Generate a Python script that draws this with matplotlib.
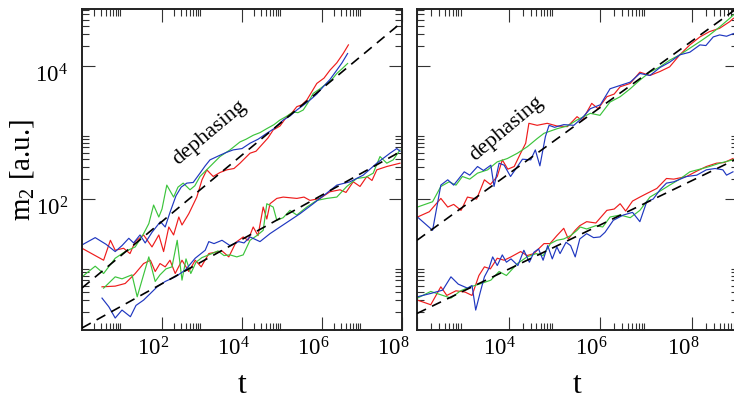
import numpy as np
import matplotlib
matplotlib.use("Agg")
import matplotlib.pyplot as plt
from matplotlib.ticker import FixedLocator, FixedFormatter, NullFormatter
import matplotlib.transforms as mtransforms

plt.rcParams['font.family'] = ['Liberation Serif', 'DejaVu Serif']
plt.rcParams['mathtext.fontset'] = 'custom'
plt.rcParams['mathtext.rm'] = 'Liberation Serif'
plt.rcParams['mathtext.it'] = 'Liberation Serif:italic'

# ---------------- data (log10 t, log10 m2) ----------------
# left panel, upper group (dephasing)
lu_blue_lt = [0, 0.33, 0.6, 0.83, 1.0, 1.17, 1.29, 1.45, 1.58, 1.75, 1.96, 2.08, 2.2, 2.35, 2.48, 2.62, 2.78, 2.95, 3.08, 3.2, 3.45, 3.6, 3.78, 4.0, 4.2, 4.4, 4.62, 4.8, 5.03, 5.2, 5.37, 5.55, 5.7, 5.87, 6.03, 6.2, 6.37, 6.5, 6.64]
lu_blue_lm = [1.31, 1.42, 1.32, 1.21, 1.30, 1.41, 1.34, 1.46, 1.34, 1.50, 1.66, 1.58, 1.80, 2.05, 2.18, 2.24, 2.25, 2.39, 2.50, 2.59, 2.66, 2.70, 2.74, 2.76, 2.84, 2.90, 2.99, 3.06, 3.19, 3.25, 3.34, 3.42, 3.49, 3.58, 3.69, 3.80, 3.94, 4.05, 4.19]
lu_red_lt = [0, 0.54, 0.71, 0.83, 1.04, 1.2, 1.33, 1.54, 1.75, 1.92, 2.04, 2.17, 2.29, 2.42, 2.5, 2.67, 2.87, 3.0, 3.12, 3.28, 3.45, 3.62, 3.8, 3.95, 4.2, 4.35, 4.53, 4.65, 4.78, 4.95, 5.12, 5.25, 5.37, 5.5, 5.62, 5.75, 5.87, 6.05, 6.2, 6.37, 6.53, 6.66]
lu_red_lm = [1.26, 1.08, 1.38, 1.23, 1.26, 1.18, 1.36, 1.46, 1.28, 1.46, 1.21, 1.58, 1.46, 1.73, 1.61, 1.78, 2.03, 2.29, 2.44, 2.34, 2.40, 2.44, 2.46, 2.54, 2.69, 2.72, 2.84, 2.92, 3.04, 3.10, 3.24, 3.30, 3.39, 3.42, 3.49, 3.62, 3.74, 3.82, 3.94, 4.05, 4.19, 4.32]
lu_green_lt = [0, 0.33, 0.54, 0.83, 1.08, 1.33, 1.54, 1.67, 1.79, 1.92, 2.0, 2.12, 2.29, 2.4, 2.53, 2.7, 2.82, 2.95, 3.2, 3.45, 3.7, 3.95, 4.1, 4.28, 4.45, 4.62, 4.8, 4.95, 5.1, 5.28, 5.4, 5.53, 5.65, 5.78, 5.95, 6.12, 6.25, 6.37, 6.5, 6.64]
lu_green_lm = [0.83, 0.99, 0.88, 1.11, 1.21, 1.28, 1.48, 1.63, 1.91, 1.73, 1.85, 2.21, 2.03, 2.18, 2.24, 2.14, 2.20, 2.34, 2.49, 2.64, 2.74, 2.86, 2.90, 2.96, 3.00, 3.06, 3.12, 3.19, 3.24, 3.31, 3.30, 3.34, 3.45, 3.59, 3.66, 3.74, 3.80, 3.89, 3.96, 4.04]

# left panel, lower group
ll_blue_lt = [0.5, 0.67, 0.83, 1.0, 1.21, 1.35, 1.54, 1.71, 1.88, 2.08, 2.33, 2.58, 2.83, 3.08, 3.17, 3.3, 3.5, 3.7, 3.92, 4.05, 4.2, 4.45, 4.7, 4.95, 5.2, 5.45, 5.78, 6.12, 6.37, 6.7, 7.03, 7.37, 7.7, 7.87, 7.95]
ll_blue_lm = [0.51, 0.38, 0.21, 0.33, 0.23, 0.40, 0.48, 0.58, 0.68, 0.76, 0.83, 0.93, 1.11, 1.23, 1.36, 1.33, 1.38, 1.30, 1.36, 1.34, 1.43, 1.36, 1.48, 1.58, 1.68, 1.78, 1.93, 2.09, 2.21, 2.26, 2.36, 2.54, 2.69, 2.76, 2.72]
ll_red_lt = [0.5, 0.83, 1.08, 1.33, 1.54, 1.71, 1.83, 1.95, 2.08, 2.2, 2.33, 2.5, 2.67, 2.83, 2.98, 3.17, 3.33, 3.5, 3.67, 3.85, 4.03, 4.15, 4.28, 4.4, 4.53, 4.62, 4.7, 4.87, 5.03, 5.2, 5.37, 5.55, 5.7, 5.95, 6.2, 6.45, 6.6, 6.78, 6.95, 7.12, 7.25, 7.37, 7.62, 7.95]
ll_red_lm = [0.68, 0.69, 0.73, 0.88, 1.03, 1.08, 0.91, 1.03, 0.98, 1.08, 0.88, 1.08, 0.91, 1.08, 0.98, 1.18, 1.20, 1.22, 1.13, 1.35, 1.43, 1.38, 1.58, 1.45, 1.88, 1.70, 1.93, 2.01, 2.03, 2.02, 2.01, 2.03, 1.98, 2.01, 2.11, 2.14, 2.10, 2.26, 2.19, 2.34, 2.28, 2.44, 2.49, 2.54]
ll_green_lt = [0.54, 0.83, 1.0, 1.25, 1.38, 1.5, 1.67, 1.83, 1.95, 2.1, 2.25, 2.38, 2.5, 2.6, 2.72, 2.85, 3.0, 3.25, 3.4, 3.55, 3.7, 3.87, 4.03, 4.2, 4.37, 4.53, 4.62, 4.78, 4.87, 5.03, 5.2, 5.37, 5.62, 5.87, 6.12, 6.37, 6.62, 6.87, 7.1, 7.28, 7.45, 7.62, 7.78, 7.95]
ll_green_lm = [0.66, 0.83, 0.80, 0.86, 0.53, 0.78, 1.13, 0.76, 0.86, 0.95, 0.98, 1.38, 0.78, 1.10, 0.88, 1.05, 1.12, 1.18, 1.22, 1.15, 1.16, 1.13, 1.16, 1.38, 1.45, 1.53, 1.93, 1.88, 1.68, 1.72, 1.83, 1.76, 1.88, 1.98, 2.01, 2.03, 2.19, 2.31, 2.33, 2.39, 2.64, 2.54, 2.59, 2.74]

# right panel, upper group (dephasing)
ru_blue_lt = [2.01, 2.34, 2.52, 2.67, 2.8, 3.03, 3.15, 3.32, 3.45, 3.61, 3.68, 3.79, 3.9, 4.04, 4.15, 4.3, 4.48, 4.58, 4.68, 4.8, 4.88, 5.0, 5.2, 5.42, 5.6, 5.78, 6.0, 6.21, 6.43, 6.65, 6.86, 7.08, 7.3, 7.51, 7.73, 7.95, 8.17, 8.3, 8.46, 8.6, 8.75, 8.9]
ru_blue_lm = [1.73, 1.53, 2.21, 2.29, 2.21, 2.41, 2.36, 2.49, 2.43, 2.51, 2.19, 2.54, 2.51, 2.34, 2.45, 2.60, 2.59, 2.74, 2.50, 2.94, 3.11, 3.08, 3.12, 3.11, 3.22, 3.36, 3.42, 3.66, 3.71, 3.76, 3.89, 3.86, 3.98, 4.06, 4.17, 4.21, 4.32, 4.31, 4.44, 4.47, 4.45, 4.49]
ru_red_lt = [2.01, 2.27, 2.52, 2.67, 2.8, 2.96, 3.1, 3.3, 3.47, 3.6, 3.75, 3.86, 3.98, 4.12, 4.26, 4.37, 4.44, 4.62, 4.84, 5.05, 5.28, 5.49, 5.6, 5.81, 5.95, 6.14, 6.3, 6.43, 6.65, 6.86, 7.08, 7.3, 7.51, 7.73, 7.95, 8.17, 8.38, 8.6, 8.82, 8.9]
ru_red_lm = [1.73, 1.81, 2.01, 1.88, 1.92, 1.83, 2.03, 2.00, 2.29, 2.22, 2.34, 2.59, 2.45, 2.49, 2.69, 2.84, 3.14, 3.11, 3.14, 3.10, 3.09, 3.24, 3.18, 3.44, 3.36, 3.54, 3.58, 3.69, 3.74, 3.91, 3.86, 3.92, 3.99, 4.17, 4.32, 4.44, 4.52, 4.57, 4.67, 4.72]
ru_green_lt = [2.01, 2.34, 2.52, 2.7, 2.85, 2.99, 3.15, 3.32, 3.54, 3.75, 3.97, 4.19, 4.41, 4.62, 4.77, 5.06, 5.28, 5.49, 5.78, 5.99, 6.21, 6.43, 6.65, 6.86, 7.08, 7.3, 7.51, 7.73, 7.95, 8.17, 8.38, 8.6, 8.82, 8.9]
ru_green_lm = [1.88, 1.96, 2.19, 2.26, 2.21, 2.34, 2.30, 2.39, 2.44, 2.56, 2.61, 2.69, 2.79, 2.91, 2.99, 3.06, 3.10, 3.19, 3.29, 3.26, 3.46, 3.54, 3.66, 3.79, 3.91, 3.99, 4.09, 4.17, 4.27, 4.37, 4.47, 4.59, 4.72, 4.77]

# right panel, lower group
rl_blue_lt = [2.01, 2.3, 2.56, 2.74, 2.9, 3.1, 3.2, 3.28, 3.38, 3.47, 3.57, 3.65, 3.75, 3.86, 3.95, 4.05, 4.2, 4.33, 4.45, 4.55, 4.65, 4.75, 4.85, 4.95, 5.05, 5.12, 5.25, 5.35, 5.45, 5.55, 5.7, 5.85, 5.99, 6.1, 6.28, 6.5, 6.7, 6.86, 7.01, 7.15, 7.3, 7.44, 7.6, 7.88, 8.1, 8.31, 8.5, 8.67, 8.75, 8.89]
rl_blue_lm = [0.53, 0.58, 0.63, 0.83, 0.72, 0.66, 0.70, 0.33, 0.60, 0.83, 0.96, 1.13, 1.00, 1.16, 1.05, 1.10, 1.00, 1.23, 1.05, 1.20, 1.25, 1.08, 1.30, 1.10, 1.28, 1.18, 1.35, 1.30, 1.13, 1.40, 1.48, 1.42, 1.43, 1.50, 1.68, 1.76, 1.80, 1.66, 1.96, 2.00, 2.14, 2.24, 2.26, 2.34, 2.36, 2.44, 2.46, 2.44, 2.36, 2.41]
rl_red_lt = [2.01, 2.3, 2.52, 2.65, 2.85, 3.05, 3.2, 3.35, 3.47, 3.6, 3.75, 3.9, 4.05, 4.26, 4.4, 4.55, 4.65, 4.77, 4.9, 5.05, 5.2, 5.3, 5.45, 5.55, 5.7, 5.9, 6.14, 6.3, 6.43, 6.55, 6.7, 6.86, 7.0, 7.23, 7.44, 7.6, 7.88, 8.1, 8.31, 8.53, 8.7, 8.89]
rl_red_lm = [0.48, 0.41, 0.68, 0.55, 0.62, 0.60, 0.55, 0.85, 0.98, 0.95, 1.11, 1.08, 1.13, 1.21, 1.15, 1.18, 1.25, 1.33, 1.33, 1.45, 1.56, 1.40, 1.53, 1.60, 1.66, 1.64, 1.83, 1.85, 1.93, 1.82, 1.97, 2.03, 2.08, 2.16, 2.31, 2.30, 2.34, 2.42, 2.49, 2.54, 2.55, 2.61]
rl_green_lt = [2.01, 2.3, 2.52, 2.74, 2.95, 3.17, 3.4, 3.61, 3.79, 3.95, 4.19, 4.4, 4.6, 4.75, 4.91, 5.05, 5.2, 5.35, 5.49, 5.56, 5.7, 5.9, 6.05, 6.21, 6.43, 6.65, 6.86, 7.08, 7.3, 7.51, 7.73, 7.95, 8.17, 8.38, 8.6, 8.89]
rl_green_lm = [0.51, 0.61, 0.56, 0.51, 0.62, 0.68, 0.73, 0.78, 0.91, 0.85, 1.03, 1.13, 1.18, 1.15, 1.33, 1.38, 1.40, 1.45, 1.53, 1.58, 1.55, 1.60, 1.58, 1.73, 1.76, 1.72, 1.83, 2.03, 2.12, 2.21, 2.30, 2.41, 2.45, 2.49, 2.54, 2.59]

# dashed power-law guides (end points)
fit_lu_t = [1.0, 1e8];  fit_lu_m = [4.6, 4.6e4]
fit_ll_t = [1.0, 1e8];  fit_ll_m = [1.15, 533.0]
fit_ru_t = [1e2, 1e9];  fit_ru_m = [24.0, 7.6e4]
fit_rl_t = [1e2, 1e9];  fit_rl_m = [1.9, 410.0]

left_xticks = [1e0, 1e2, 1e4, 1e6, 1e8]
left_xlabels = ['', r'$\mathregular{10^{2}}$', r'$\mathregular{10^{4}}$', r'$\mathregular{10^{6}}$', r'$\mathregular{10^{8}}$']
right_xticks = [1e2, 1e4, 1e6, 1e8]
right_xlabels = ['', r'$\mathregular{10^{4}}$', r'$\mathregular{10^{6}}$', r'$\mathregular{10^{8}}$']
yticks = [1e0, 1e2, 1e4]
ylabels = ['', r'$\mathregular{10^{2}}$', r'$\mathregular{10^{4}}$']

RED = '#ee1c1c'
GREEN = '#3cc43c'
BLUE = '#1f37c0'

W, H = 734, 399
fig = plt.figure(figsize=(W / 100, H / 100), dpi=100)
axL = fig.add_axes([82 / W, (H - 330) / H, 320 / W, 321 / H])
axR = fig.add_axes([417 / W, (H - 330) / H, 321 / W, 321 / H])


def p(l):
    return 10 ** np.asarray(l)


groups = {
    axL: [(lu_red_lt, lu_red_lm, RED), (lu_green_lt, lu_green_lm, GREEN), (lu_blue_lt, lu_blue_lm, BLUE),
          (ll_red_lt, ll_red_lm, RED), (ll_green_lt, ll_green_lm, GREEN), (ll_blue_lt, ll_blue_lm, BLUE)],
    axR: [(ru_red_lt, ru_red_lm, RED), (ru_green_lt, ru_green_lm, GREEN), (ru_blue_lt, ru_blue_lm, BLUE),
          (rl_red_lt, rl_red_lm, RED), (rl_green_lt, rl_green_lm, GREEN), (rl_blue_lt, rl_blue_lm, BLUE)],
}
for ax, items in groups.items():
    for lt, lm, c in items:
        ax.plot(p(lt), p(lm), color=c, lw=0.85)

for ax, fits in [(axL, [(fit_lu_t, fit_lu_m), (fit_ll_t, fit_ll_m)]),
                 (axR, [(fit_ru_t, fit_ru_m), (fit_rl_t, fit_rl_m)])]:
    for ft, fm in fits:
        ax.plot(ft, fm, color='black', lw=1.2, dashes=(6, 4), zorder=5)

ymin, ymax = 10 ** 0.03, 10 ** 4.86
for ax, xlim, xt, xl, mexp in [(axL, (1, 1e8), left_xticks, left_xlabels, (0, 2, 4, 6)),
                               (axR, (1e2, 1e9), right_xticks, right_xlabels, (2, 4, 6, 8))]:
    ax.set_xscale('log')
    ax.set_yscale('log')
    ax.set_xlim(*xlim)
    ax.set_ylim(ymin, ymax)
    ax.xaxis.set_major_locator(FixedLocator(xt))
    ax.xaxis.set_major_formatter(FixedFormatter(xl))
    ax.xaxis.set_minor_locator(FixedLocator([m * 10.0 ** k for k in mexp for m in range(2, 10)]))
    ax.xaxis.set_minor_formatter(NullFormatter())
    ax.yaxis.set_major_locator(FixedLocator(yticks))
    ax.yaxis.set_minor_locator(FixedLocator([m * 10.0 ** k for k in (0, 2, 4) for m in range(2, 10)]))
    ax.yaxis.set_minor_formatter(NullFormatter())
    ax.tick_params(which='both', direction='in', top=True, right=True, color='#333333', width=0.8)
    ax.tick_params(which='major', length=9.5)
    ax.tick_params(which='minor', length=5)
    ax.tick_params(axis='x', which='major', labelsize=16.5, pad=5)
    ax.tick_params(axis='y', which='major', labelsize=16.5, pad=10)
    for s in ax.spines.values():
        s.set_linewidth(1.4)
        s.set_color('#222222')
    ax.set_xlabel('t', fontsize=23)
    ax.xaxis.label.set_va('baseline')
    ax.xaxis.set_label_coords(0.5, (330 - 393) / 321)

axL.yaxis.set_major_formatter(FixedFormatter(ylabels))
axR.yaxis.set_major_formatter(NullFormatter())

dx = mtransforms.ScaledTranslation(-9 / 100, 0, fig.dpi_scale_trans)
dy = mtransforms.ScaledTranslation(0, -7 / 100, fig.dpi_scale_trans)
for ax in (axL, axR):
    for lab in ax.get_xticklabels():
        lab.set_transform(lab.get_transform() + dx)
for lab in axL.get_yticklabels():
    lab.set_transform(lab.get_transform() + dy)

axL.set_ylabel(r'$\mathregular{m_2}$ [a.u.]', fontsize=21)
axL.yaxis.label.set_va('center')
axL.yaxis.set_label_coords((22 - 82) / 320, 0.5)

axL.text(10 ** 3.2, 10 ** 2.99, 'dephasing', fontsize=16, rotation=40,
         ha='center', va='center', rotation_mode='anchor')
axR.text(10 ** 3.95, 10 ** 3.06, 'dephasing', fontsize=16, rotation=40,
         ha='center', va='center', rotation_mode='anchor')

fig.savefig('out.png', dpi=100)
